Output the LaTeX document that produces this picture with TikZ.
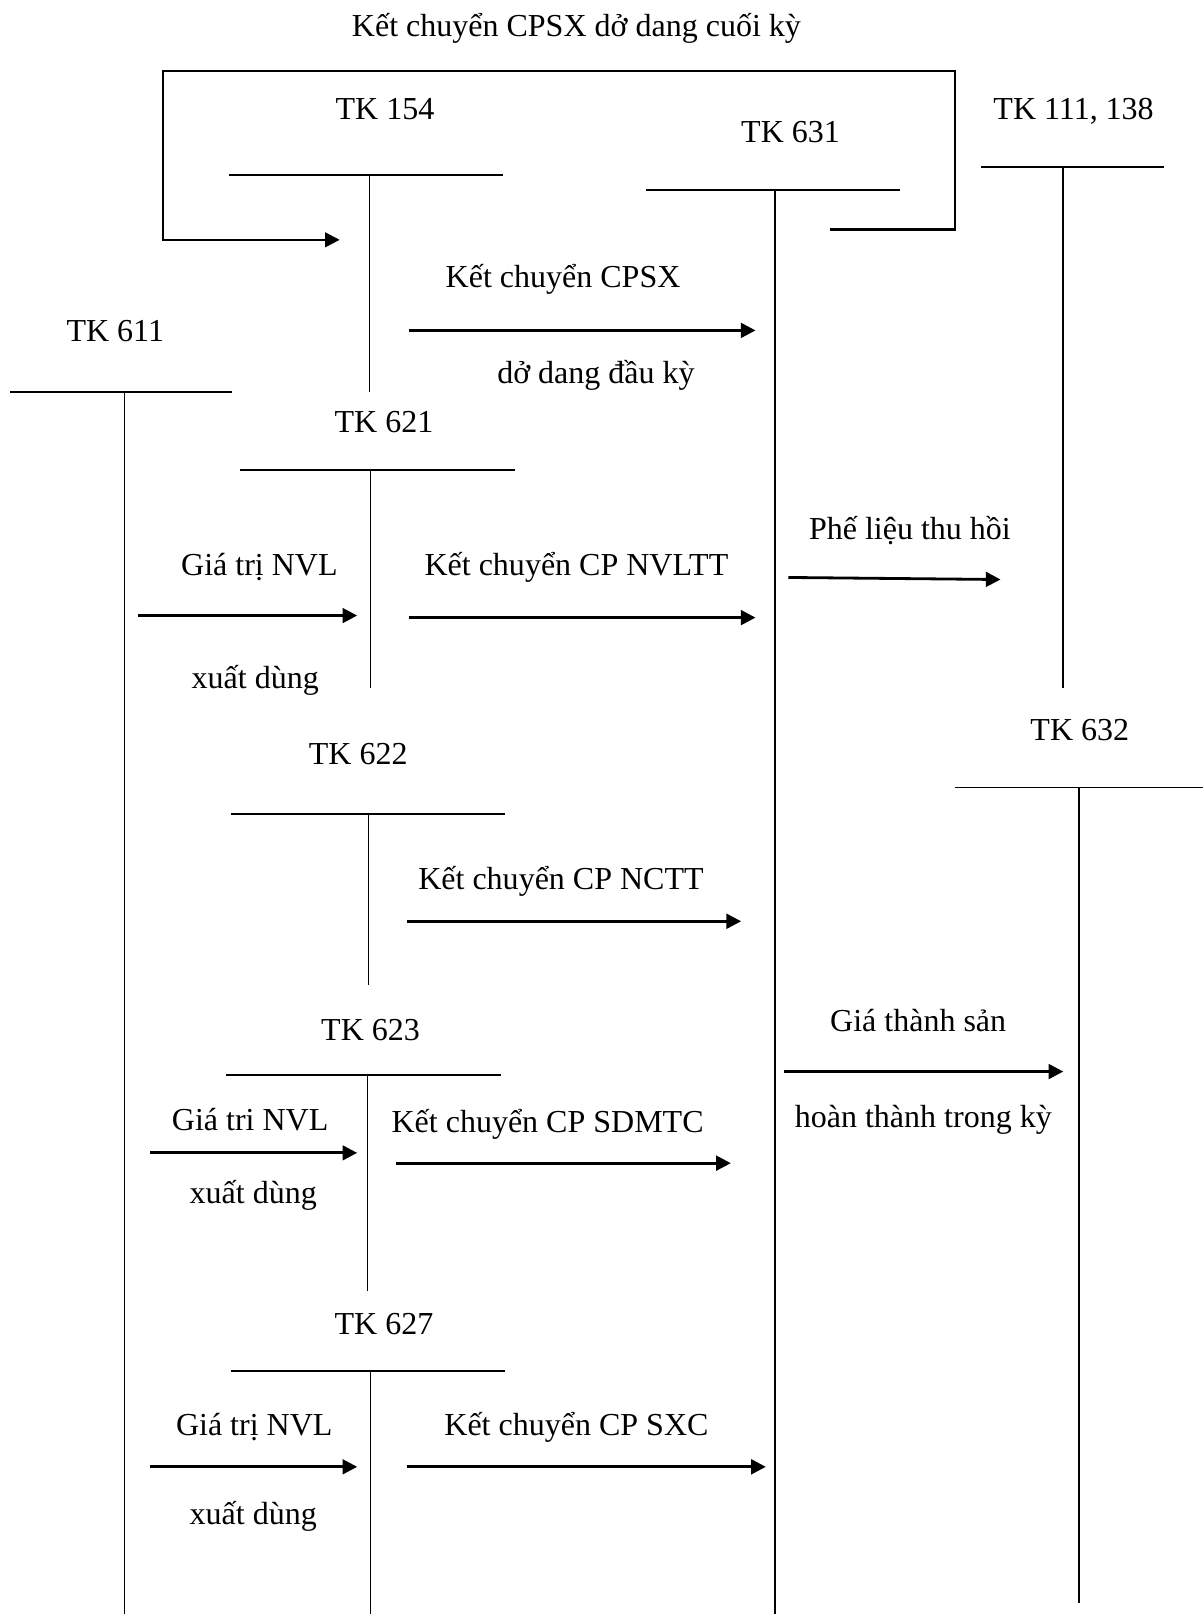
\documentclass[tikz,border=0pt]{standalone}
\usepackage{fontspec}
\setmainfont{Liberation Serif}
\usetikzlibrary{arrows.meta}

\begin{document}
\begin{tikzpicture}[x=0.7718pt,y=-0.7718pt,
lbl/.style={font=\fontsize{24}{28}\selectfont,inner sep=0pt,text height=0.66em,text depth=0pt,yshift=-4.6pt},
tline/.style={line width=1.4pt},
loopline/.style={line width=1.6pt,-{Triangle[length=11pt,width=11pt]}},
arr/.style={-{Triangle[length=11pt,width=11pt]},line width=2.1pt}
]
\useasboundingbox (0,0) rectangle (1169,1568);

% tai khoan chu T
\node[lbl] (tk154) at (374,106) {TK 154};
\draw[tline] (222,170) -- (489,170) (359,170) -- (359,381);
\node[lbl] (tk631) at (768,128) {TK 631};
\draw[tline] (628,185) -- (874,185) (753,185) -- (753,1568);
\node[lbl] (tk111) at (1043,106) {TK 111, 138};
\draw[tline] (953,162) -- (1131,162) (1033,162) -- (1033,668);
\node[lbl] (tk611) at (112,322) {TK 611};
\draw[tline] (10,381) -- (225,381) (121,381) -- (121,1568);
\node[lbl] (tk621) at (373,410) {TK 621};
\draw[tline] (233,457) -- (500,457) (360,457) -- (360,668);
\node[lbl] (tk632) at (1049,709) {TK 632};
\draw[tline] (928,765) -- (1169,765) (1048,765) -- (1048,1557);
\node[lbl] (tk622) at (348,732) {TK 622};
\draw[tline] (224,791) -- (491,791) (358,791) -- (358,957);
\node[lbl] (tk623) at (360,1001) {TK 623};
\draw[tline] (220,1044) -- (487,1044) (357,1044) -- (357,1254);
\node[lbl] (tk627) at (373,1286) {TK 627};
\draw[tline] (224,1332) -- (491,1332) (360,1332) -- (360,1568);

% ket chuyen cuoi ky
\node[lbl] (cuoiky) at (560,25) {Kết chuyển CPSX dở dang cuối kỳ};
\coordinate (ck1) at (806,223);
\coordinate (ck2) at (330,233);
\draw[loopline] (ck1) -- (928,223) -- (928,69) -- (158,69) -- (158,233) -- (ck2);

% dau ky
\node[lbl] (dauky1) at (547,269) {Kết chuyển CPSX};
\node[lbl] (dauky2) at (579,362) {dở dang đầu kỳ};
\coordinate (dk1) at (397,321);
\coordinate (dk2) at (734,321);
\draw[arr] (dk1) -- (dk2);

% 621
\node[lbl] (nvl1a) at (252,549) {Giá trị NVL};
\node[lbl] (nvl1b) at (248,659) {xuất dùng};
\coordinate (n1a) at (134,598);
\coordinate (n1b) at (347,598);
\draw[arr] (n1a) -- (n1b);
\node[lbl] (kc621) at (560,549) {Kết chuyển CP NVLTT};
\coordinate (k1a) at (397,600);
\coordinate (k1b) at (734,600);
\draw[arr] (k1a) -- (k1b);

% phe lieu
\node[lbl] (phelieu) at (884,514) {Phế liệu thu hồi};
\coordinate (p1) at (766,561);
\coordinate (p2) at (972,563);
\draw[arr] (p1) -- (p2);

% 622
\node[lbl] (kc622) at (545,854) {Kết chuyển CP NCTT};
\coordinate (k2a) at (395,895);
\coordinate (k2b) at (720,895);
\draw[arr] (k2a) -- (k2b);

% gia thanh
\node[lbl] (gt1) at (892,992) {Giá thành sản};
\node[lbl] (gt2) at (897,1085) {hoàn thành trong kỳ};
\coordinate (g1) at (762,1041);
\coordinate (g2) at (1033,1041);
\draw[arr] (g1) -- (g2);

% 623
\node[lbl] (nvl2a) at (243,1088) {Giá tri NVL};
\node[lbl] (nvl2b) at (246,1159) {xuất dùng};
\coordinate (n2a) at (146,1120);
\coordinate (n2b) at (347,1120);
\draw[arr] (n2a) -- (n2b);
\node[lbl] (kc623) at (532,1090) {Kết chuyển CP SDMTC};
\coordinate (k3a) at (385,1130);
\coordinate (k3b) at (710,1130);
\draw[arr] (k3a) -- (k3b);

% 627
\node[lbl] (nvl3a) at (247,1384) {Giá trị NVL};
\node[lbl] (nvl3b) at (246,1471) {xuất dùng};
\coordinate (n3a) at (146,1425);
\coordinate (n3b) at (347,1425);
\draw[arr] (n3a) -- (n3b);
\node[lbl] (kc627) at (560,1384) {Kết chuyển CP SXC};
\coordinate (k4a) at (395,1425);
\coordinate (k4b) at (744,1425);
\draw[arr] (k4a) -- (k4b);
\end{tikzpicture}
\end{document}
